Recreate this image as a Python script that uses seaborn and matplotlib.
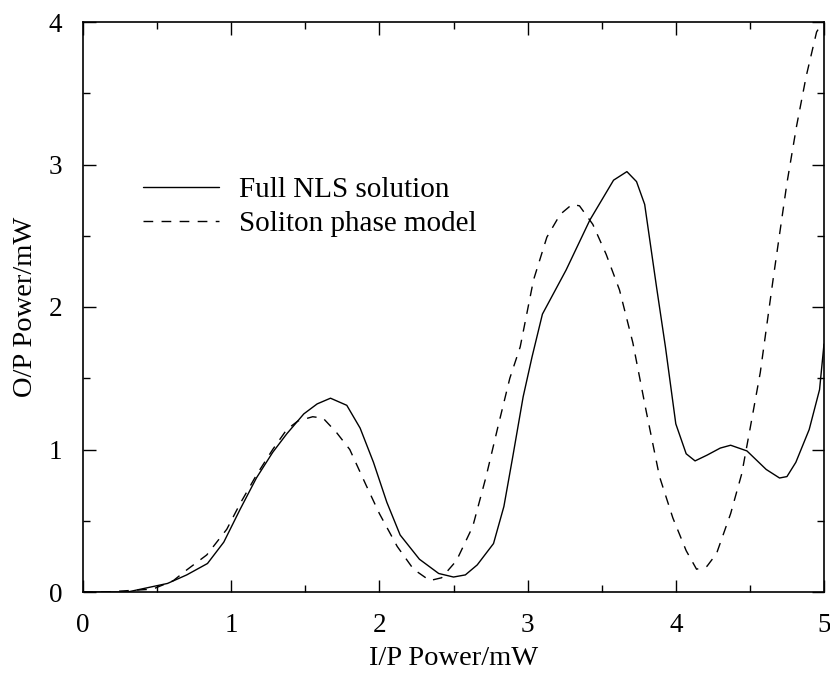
import numpy as np
import pandas as pd
import matplotlib
matplotlib.use("Agg")
import matplotlib.pyplot as plt
import seaborn as sns
from matplotlib.ticker import MultipleLocator

# ---- data ----
x_full = [0.0, 0.30, 0.57, 0.70, 0.84, 0.95, 1.06, 1.17, 1.28, 1.375, 1.49, 1.58,
          1.67, 1.78, 1.87, 1.96, 2.05, 2.14, 2.27, 2.40, 2.50, 2.58, 2.66, 2.77,
          2.84, 2.90, 2.97, 3.03, 3.10, 3.26, 3.42, 3.58, 3.67, 3.735, 3.79, 3.87,
          3.93, 4.00, 4.07, 4.13, 4.21, 4.30, 4.37, 4.48, 4.61, 4.70, 4.75, 4.81,
          4.90, 4.97, 5.00]
y_full = [0.0, 0.0, 0.06, 0.12, 0.20, 0.35, 0.58, 0.80, 0.98, 1.11, 1.25, 1.32,
          1.36, 1.31, 1.15, 0.91, 0.63, 0.40, 0.23, 0.13, 0.105, 0.12, 0.19, 0.34,
          0.60, 0.95, 1.37, 1.65, 1.95, 2.26, 2.61, 2.89, 2.95, 2.88, 2.72, 2.14,
          1.72, 1.18, 0.97, 0.92, 0.96, 1.01, 1.03, 0.99, 0.86, 0.80, 0.81, 0.91,
          1.14, 1.42, 1.74]

x_sol = [0.0, 0.15, 0.47, 0.61, 0.70, 0.835, 0.97, 1.06, 1.17, 1.28, 1.375, 1.45,
         1.55, 1.62, 1.71, 1.80, 1.91, 2.00, 2.12, 2.23, 2.34, 2.42, 2.52, 2.63,
         2.72, 2.80, 2.88, 2.95, 3.04, 3.13, 3.22, 3.30, 3.35, 3.44, 3.53, 3.62,
         3.71, 3.80, 3.89, 3.98, 4.07, 4.14, 4.21, 4.275, 4.37, 4.445, 4.50, 4.57,
         4.66, 4.75, 4.815, 4.88, 4.95, 4.98]
y_sol = [0.0, 0.0, 0.02, 0.08, 0.155, 0.26, 0.44, 0.62, 0.82, 1.00, 1.14, 1.20,
         1.23, 1.22, 1.12, 1.00, 0.75, 0.55, 0.32, 0.16, 0.08, 0.10, 0.22, 0.46,
         0.81, 1.16, 1.50, 1.72, 2.19, 2.49, 2.65, 2.72, 2.71, 2.58, 2.37, 2.12,
         1.75, 1.27, 0.81, 0.52, 0.29, 0.16, 0.18, 0.27, 0.55, 0.83, 1.14, 1.54,
         2.22, 2.87, 3.27, 3.62, 3.93, 3.98]

label_full = "Full NLS solution"
label_sol = "Soliton phase model"
x_ticks = [0, 1, 2, 3, 4, 5]
y_ticks = [0, 1, 2, 3, 4]

df = pd.concat([
    pd.DataFrame({"x": x_full, "y": y_full, "series": label_full}),
    pd.DataFrame({"x": x_sol, "y": y_sol, "series": label_sol}),
], ignore_index=True)

sns.set_style("ticks")
plt.rcParams["font.family"] = ["Liberation Serif", "DejaVu Serif"]
plt.rcParams["text.color"] = "black"
plt.rcParams["axes.labelcolor"] = "black"
plt.rcParams["xtick.color"] = "black"
plt.rcParams["ytick.color"] = "black"

fig = plt.figure(figsize=(8.3, 6.77), dpi=100)
ax = fig.add_axes([83 / 830, 1 - 592 / 677, 741 / 830, 570 / 677])

sns.lineplot(data=df, x="x", y="y", hue="series", style="series",
             palette={label_full: "black", label_sol: "black"},
             dashes={label_full: "", label_sol: (7, 6)},
             linewidth=1.0, sort=False, estimator=None, ax=ax, legend=True)

ax.set_xlim(0, 5)
ax.set_ylim(0, 4)
ax.set_xticks(x_ticks)
ax.set_yticks(y_ticks)
ax.xaxis.set_minor_locator(MultipleLocator(0.5))
ax.yaxis.set_minor_locator(MultipleLocator(0.5))
ax.tick_params(which="both", direction="in", top=True, right=True,
               color="black", labelcolor="black", width=1.0)
ax.tick_params(which="major", length=9, labelsize=19.5, pad=15)
ax.tick_params(which="minor", length=5)
for s in ax.spines.values():
    s.set_visible(True)
    s.set_color("black")
    s.set_linewidth(1.2)

ax.set_xlabel("I/P Power/mW", fontsize=20.5, color="black")
ax.set_ylabel("O/P Power/mW", fontsize=20.5, color="black")
ax.xaxis.set_label_coords(0.5, -(646 - 592) / 570)
ax.yaxis.set_label_coords(-(83 - 38) / 741, 0.5)

leg = ax.legend(loc="upper left", bbox_to_anchor=(48 / 741, (592 - 165) / 570),
                frameon=False, fontsize=21, handlelength=2.6,
                handletextpad=0.7, labelspacing=0.25, borderaxespad=0)
for line in leg.get_lines():
    line.set_linewidth(1.0)
for t in leg.get_texts():
    t.set_color("black")

fig.savefig("out.png", dpi=100, facecolor="white")
